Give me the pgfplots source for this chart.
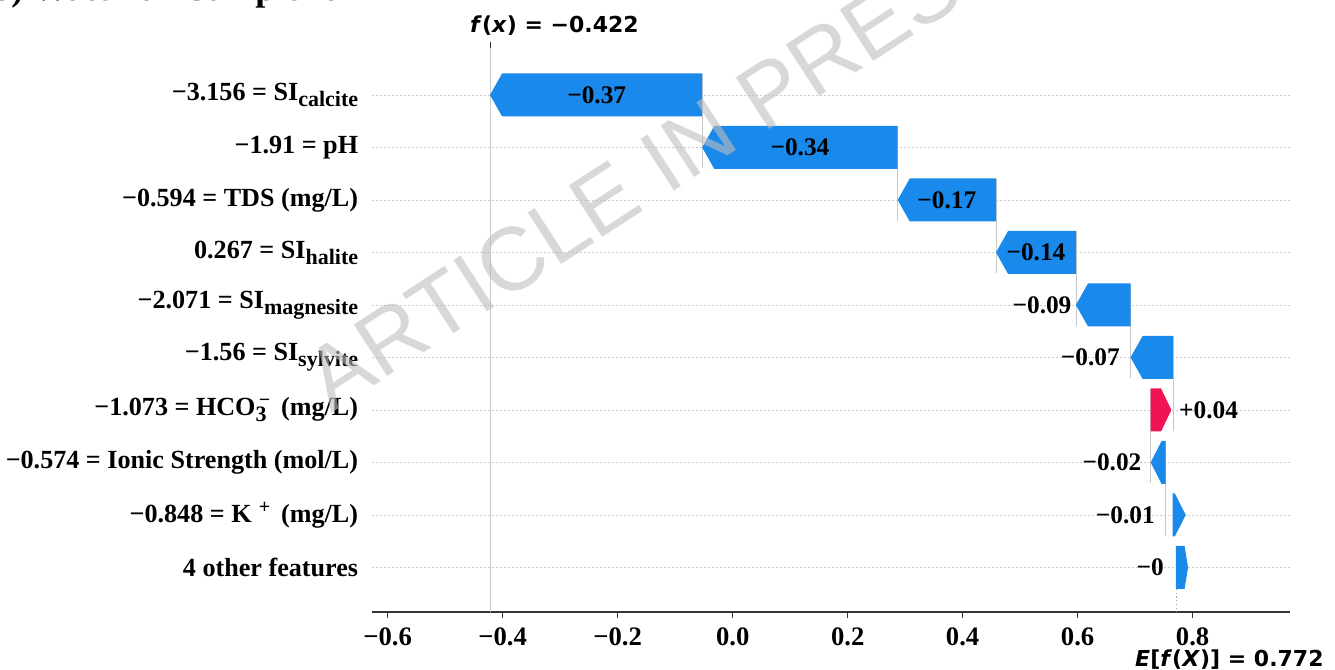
\documentclass[border=0pt]{standalone}
\usepackage{fontspec}
\setmainfont{Liberation Serif}
\newfontfamily\dejavu{DejaVu Sans}
\newfontfamily\wmfont{Liberation Sans}
\usepackage{pgfplots}
\pgfplotsset{compat=1.18}
\definecolor{shapblue}{RGB}{25,137,236}
\definecolor{shapred}{RGB}{240,20,85}
\definecolor{axgray}{RGB}{51,51,51}
\definecolor{lgray}{RGB}{200,200,200}
\definecolor{wmgray}{RGB}{190,190,190}
\newcommand{\lblfont}{\bfseries\fontsize{19}{23}\selectfont}
\newcommand{\rowfont}{\bfseries\fontsize{19.6}{23}\selectfont}
\newcommand{\sub}[1]{\raisebox{-4.5pt}{\fontsize{16.5}{18}\selectfont #1}}
\newcommand{\super}[1]{\raisebox{7pt}{\fontsize{15}{16}\selectfont #1}}
\begin{document}
\begin{tikzpicture}
\begin{axis}[name=ax, at={(0,0)}, anchor=south west, scale only axis,
  width=688.7pt, height=423pt,
  xmin=-0.6278, xmax=0.9692, ymin=-0.848, ymax=9.895, clip=false,
  axis x line*=bottom, axis y line*=left,
  y axis line style={draw=none},
  x axis line style={-, axgray, line width=1.5pt},
  xtick={-0.6,-0.4,-0.2,0,0.2,0.4,0.6,0.8},
  xticklabels={−0.6,−0.4,−0.2,0.0,0.2,0.4,0.6,0.8},
  xtick align=outside, xtick style={axgray, line width=1.2pt}, major tick length=4.5pt,
  ytick={0,1,2,3,4,5,6,7,8,9},
  yticklabels={{4 other features},
    {−0.848 = K\;\super{+}\ \,(mg/L)},
    {−0.574 = Ionic Strength (mol/L)},
    {−1.073 = HCO\rlap{\sub{3}}\super{\,−}\ \,(mg/L)},
    {−1.56 = SI\sub{sylvite}},
    {−2.071 = SI\sub{magnesite}},
    {0.267 = SI\sub{halite}},
    {−0.594 = TDS (mg/L)},
    {−1.91 = pH},
    {−3.156 = SI\sub{calcite}}},
  ytick style={draw=none},
  ymajorgrids, grid style={gray!40, dash pattern=on 1.5pt off 1.5pt, line width=0.6pt},
  xticklabel style={font=\bfseries\fontsize{20}{24}\selectfont, inner sep=0pt, yshift=-7pt},
  yticklabel style={font=\rowfont, inner sep=0pt, xshift=-10pt, anchor=east},
]
% f(x) and E[f(X)] reference lines
\addplot[lgray, line width=0.6pt] coordinates {(-0.422,-0.848) (-0.422,9.895)};
\addplot[axgray, line width=0.8pt] coordinates {(-0.422,9.895) (-0.422,10.0)};
\addplot[gray!70, dotted, line width=0.8pt] coordinates {(0.772,-0.41) (0.772,-0.848)};
% connectors
\addplot[lgray, line width=0.5pt] coordinates {(-0.053,9.4) (-0.053,7.6)};
\addplot[lgray, line width=0.5pt] coordinates {(0.287,8.4) (0.287,6.6)};
\addplot[lgray, line width=0.5pt] coordinates {(0.458,7.4) (0.458,5.6)};
\addplot[lgray, line width=0.5pt] coordinates {(0.597,6.4) (0.597,4.6)};
\addplot[lgray, line width=0.5pt] coordinates {(0.692,5.4) (0.692,3.6)};
\addplot[lgray, line width=0.5pt] coordinates {(0.766,4.4) (0.766,2.6)};
\addplot[lgray, line width=0.5pt] coordinates {(0.727,3.4) (0.727,1.6)};
\addplot[lgray, line width=0.5pt] coordinates {(0.753,2.4) (0.753,0.6)};
% bars
\addplot[fill=shapblue, draw=none] coordinates {(-0.053,9.41) (-0.401,9.41) (-0.422,9) (-0.401,8.59) (-0.053,8.59)} -- cycle;
\addplot[fill=shapblue, draw=none] coordinates {(0.287,8.41) (-0.032,8.41) (-0.053,8) (-0.032,7.59) (0.287,7.59)} -- cycle;
\addplot[fill=shapblue, draw=none] coordinates {(0.458,7.41) (0.308,7.41) (0.287,7) (0.308,6.59) (0.458,6.59)} -- cycle;
\addplot[fill=shapblue, draw=none] coordinates {(0.597,6.41) (0.479,6.41) (0.458,6) (0.479,5.59) (0.597,5.59)} -- cycle;
\addplot[fill=shapblue, draw=none] coordinates {(0.692,5.41) (0.618,5.41) (0.597,5) (0.618,4.59) (0.692,4.59)} -- cycle;
\addplot[fill=shapblue, draw=none] coordinates {(0.766,4.41) (0.713,4.41) (0.692,4) (0.713,3.59) (0.766,3.59)} -- cycle;
\addplot[fill=shapred, draw=none] coordinates {(0.727,3.41) (0.745,3.41) (0.763,3) (0.745,2.59) (0.727,2.59)} -- cycle;
\addplot[fill=shapblue, draw=none] coordinates {(0.753,2.41) (0.746,2.41) (0.727,2) (0.746,1.59) (0.753,1.59)} -- cycle;
\addplot[fill=shapblue, draw=none] coordinates {(0.765,1.41) (0.769,1.41) (0.788,1) (0.769,0.59) (0.765,0.59)} -- cycle;
\addplot[fill=shapblue, draw=none] coordinates {(0.771,0.41) (0.786,0.41) (0.792,0) (0.786,-0.41) (0.771,-0.41)} -- cycle;
% value labels
\node[inner sep=0pt, font=\lblfont] at (axis cs:-0.2365,9) {−0.37};
\node[inner sep=0pt, font=\lblfont] at (axis cs:0.117,8) {−0.34};
\node[inner sep=0pt, font=\lblfont] at (axis cs:0.3725,7) {−0.17};
\node[inner sep=0pt, font=\lblfont] at (axis cs:0.5275,6) {−0.14};
\node[inner sep=0pt, anchor=east, font=\lblfont] at (axis cs:0.5896,5) {−0.09};
\node[inner sep=0pt, anchor=east, font=\lblfont] at (axis cs:0.6737,4) {−0.07};
\node[inner sep=0pt, anchor=west, font=\lblfont] at (axis cs:0.7762,3) {+0.04};
\node[inner sep=0pt, anchor=east, font=\lblfont] at (axis cs:0.7113,2) {−0.02};
\node[inner sep=0pt, anchor=east, font=\lblfont] at (axis cs:0.7344,1) {−0.01};
\node[inner sep=0pt, anchor=east, font=\lblfont] at (axis cs:0.7501,0) {−0};
% f(x) and E[f(X)] texts
\node[anchor=base west, inner sep=0pt, yshift=11.25pt, font=\dejavu\bfseries\fontsize{16.5}{20}\selectfont]
  at (axis cs:-0.4569,9.895) {\textit{f}(\textit{x}) = −0.422};
\node[anchor=base west, inner sep=0pt, yshift=-41.25pt, font=\dejavu\bfseries\fontsize{16.5}{20}\selectfont]
  at (axis cs:0.6997,-0.848) {\textit{E}[\textit{f}(\textit{X})] = 0.772};
% watermark
\node[rotate=33, text=wmgray, text opacity=0.6, inner sep=0pt, font=\wmfont\fontsize{67}{72}\selectfont]
  at (axis cs:-0.1300,7.667) {ARTICLE IN PRESS};
\end{axis}
\node[anchor=base west, inner sep=0pt, font=\bfseries\fontsize{27}{30}\selectfont]
  at ([xshift=-285.5pt, yshift=458.5pt]ax.south west) {b) Waterfall Sample for};
\pgfresetboundingbox
\path ([xshift=-278.8pt,yshift=-43.5pt]ax.south west) rectangle ([xshift=722.5pt,yshift=459pt]ax.south west);
\end{tikzpicture}
\end{document}
